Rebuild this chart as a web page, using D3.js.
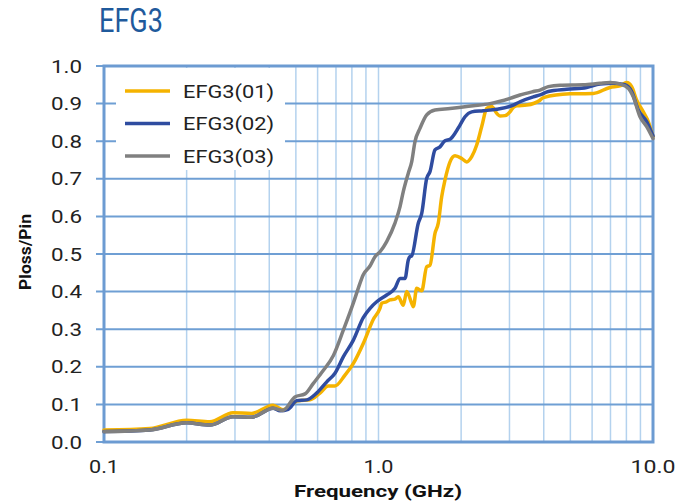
<!DOCTYPE html>
<html><head><meta charset="utf-8">
<script src="https://cdn.jsdelivr.net/npm/d3@7"></script>
<style>body{margin:0;background:#fff}svg{display:block}text{font-family:Roboto,"Noto Sans",sans-serif}</style>
</head><body><svg id="c" width="691" height="503"></svg>
<script>
const seriesNames = ["EFG3(01)", "EFG3(02)", "EFG3(03)"];
const seriesColors = ["#f5b300", "#2f4ca0", "#808080"];
const yTicks = [0,0.1,0.2,0.3,0.4,0.5,0.6,0.7,0.8,0.9,1.0];
const xTickLabels = [[0.1,"0.1"],[1,"1.0"],[10,"10.0"]];
const efg01 = [[0.1,0.032],[0.147,0.036],[0.2,0.058],[0.243,0.054],[0.295,0.078],[0.345,0.076],[0.413,0.098],[0.449,0.086],[0.509,0.11],[0.563,0.112],[0.612,0.13],[0.656,0.149],[0.694,0.149],[0.755,0.178],[0.81,0.209],[0.88,0.262],[0.957,0.326],[1.013,0.356],[1.027,0.369],[1.071,0.373],[1.101,0.378],[1.148,0.38],[1.181,0.386],[1.231,0.364],[1.267,0.4],[1.321,0.369],[1.339,0.36],[1.378,0.409],[1.437,0.402],[1.498,0.466],[1.54,0.47],[1.606,0.555],[1.651,0.582],[1.699,0.652],[1.747,0.697],[1.822,0.745],[1.9,0.761],[2.01,0.754],[2.096,0.745],[2.186,0.759],[2.279,0.79],[2.377,0.839],[2.479,0.887],[2.585,0.892],[2.696,0.874],[2.771,0.867],[2.89,0.868],[3.013,0.878],[3.098,0.89],[3.188,0.894],[3.467,0.896],[3.876,0.909],[3.985,0.916],[4.985,0.926],[6.06,0.927],[6.972,0.943],[7.582,0.947],[8.022,0.956],[8.363,0.945],[8.721,0.909],[9.219,0.878],[9.613,0.852],[10,0.812]];
const efg02 = [[0.1,0.028],[0.147,0.032],[0.2,0.051],[0.243,0.045],[0.295,0.067],[0.345,0.066],[0.413,0.09],[0.438,0.083],[0.469,0.087],[0.504,0.11],[0.548,0.112],[0.595,0.13],[0.648,0.16],[0.694,0.183],[0.745,0.227],[0.81,0.271],[0.88,0.331],[0.93,0.355],[0.985,0.373],[1.071,0.391],[1.148,0.409],[1.198,0.435],[1.249,0.435],[1.284,0.484],[1.302,0.493],[1.321,0.495],[1.396,0.582],[1.437,0.608],[1.498,0.701],[1.54,0.719],[1.606,0.777],[1.675,0.785],[1.747,0.801],[1.822,0.805],[1.9,0.821],[1.981,0.843],[2.066,0.865],[2.186,0.878],[2.409,0.881],[2.696,0.885],[3.098,0.896],[3.277,0.905],[3.664,0.918],[3.876,0.923],[4.156,0.932],[4.849,0.938],[5.734,0.943],[6.411,0.952],[7.168,0.954],[7.907,0.95],[8.363,0.932],[8.84,0.883],[9.484,0.852],[10,0.814]];
const efg03 = [[0.1,0.027],[0.147,0.032],[0.2,0.051],[0.243,0.045],[0.295,0.067],[0.345,0.066],[0.413,0.09],[0.449,0.084],[0.496,0.12],[0.54,0.128],[0.579,0.156],[0.629,0.19],[0.685,0.23],[0.745,0.298],[0.81,0.37],[0.845,0.41],[0.88,0.445],[0.931,0.468],[0.971,0.493],[1.013,0.506],[1.071,0.533],[1.148,0.582],[1.198,0.626],[1.231,0.666],[1.284,0.715],[1.321,0.745],[1.358,0.799],[1.416,0.834],[1.498,0.87],[1.606,0.883],[1.822,0.887],[2.215,0.894],[2.548,0.9],[3.013,0.914],[3.277,0.923],[3.664,0.932],[3.876,0.936],[4.156,0.945],[4.584,0.949],[5.573,0.95],[6.411,0.954],[6.972,0.956],[7.582,0.952],[8.128,0.941],[8.476,0.918],[8.967,0.865],[9.484,0.839],[10,0.807]];
const seriesData = [efg01, efg02, efg03];

const svg = d3.select("#c");
const L = 104, R = 653, T = 66, B = 442;
const x = d3.scaleLog().domain([0.1, 10]).range([L, R]);
const y = d3.scaleLinear().domain([0, 1]).range([B, T]);

// minor vertical grid
const minor = [];
[0.1, 1].forEach(d => { for (let k = 2; k <= 9; k++) minor.push(d * k); });
minor.push(1);
svg.append("g").selectAll("line").data(minor).join("line")
  .attr("x1", d => x(d)).attr("x2", d => x(d)).attr("y1", T).attr("y2", B)
  .attr("stroke", "#b4d2ee").attr("stroke-width", 1.5);
// horizontal grid + ticks
svg.append("g").selectAll("line").data(yTicks).join("line")
  .attr("x1", L - 8).attr("x2", R).attr("y1", d => y(d)).attr("y2", d => y(d))
  .attr("stroke", "#6f9fd4").attr("stroke-width", 2);
// frame
svg.append("rect").attr("x", L).attr("y", T).attr("width", R - L).attr("height", B - T)
  .attr("fill", "none").attr("stroke", "#6c9bd2").attr("stroke-width", 3);

// y labels
svg.append("g").selectAll("text").data(yTicks).join("text")
  .attr("x", 82).attr("y", d => y(d) + 6.5).attr("text-anchor", "end")
  .attr("font-size", 18).attr("fill", "#222")
  .attr("textLength", 31).attr("lengthAdjust", "spacingAndGlyphs").text(d => d.toFixed(1));
// x labels
svg.append("g").selectAll("text").data(xTickLabels).join("text")
  .attr("x", d => x(d[0])).attr("y", 473).attr("text-anchor", "middle")
  .attr("font-size", 18).attr("fill", "#222")
  .attr("textLength", d => d[1].length === 3 ? 30 : 45).attr("lengthAdjust", "spacingAndGlyphs").text(d => d[1]);

// axis titles
svg.append("text").attr("x", 378).attr("y", 497).attr("text-anchor", "middle")
  .attr("font-size", 17).attr("font-weight", "bold").attr("fill", "#111")
  .attr("textLength", 168).attr("lengthAdjust", "spacingAndGlyphs").text("Frequency (GHz)");
svg.append("text").attr("transform", "translate(31,252) rotate(-90)").attr("text-anchor", "middle")
  .attr("font-size", 17).attr("font-weight", "bold").attr("fill", "#111")
  .attr("textLength", 76).attr("lengthAdjust", "spacingAndGlyphs").text("Ploss/Pin");

// title
svg.append("text").attr("x", 99).attr("y", 32).attr("font-size", 33).attr("fill", "#1f5a9c")
  .attr("textLength", 64).attr("lengthAdjust", "spacingAndGlyphs").text("EFG3");

// lines
const line = d3.line().x(d => x(d[0])).y(d => y(d[1])).curve(d3.curveMonotoneX);
svg.append("g").selectAll("path").data(seriesData).join("path")
  .attr("d", line).attr("fill", "none")
  .attr("stroke", (d, i) => seriesColors[i]).attr("stroke-width", 3.5)
  .attr("stroke-linejoin", "round").attr("stroke-linecap", "round");

// legend
const lg = svg.append("g");
lg.append("rect").attr("x", 116).attr("y", 68).attr("width", 169).attr("height", 102).attr("fill", "#fff");
seriesNames.forEach((n, i) => {
  const yy = 91 + i * 32.5;
  lg.append("line").attr("x1", 125).attr("x2", 170).attr("y1", yy).attr("y2", yy)
    .attr("stroke", seriesColors[i]).attr("stroke-width", 3.5);
  lg.append("text").attr("x", 183).attr("y", yy + 6.5).attr("font-size", 18).attr("fill", "#222")
    .attr("textLength", 91).attr("lengthAdjust", "spacingAndGlyphs").text(n);
});
</script></body></html>
